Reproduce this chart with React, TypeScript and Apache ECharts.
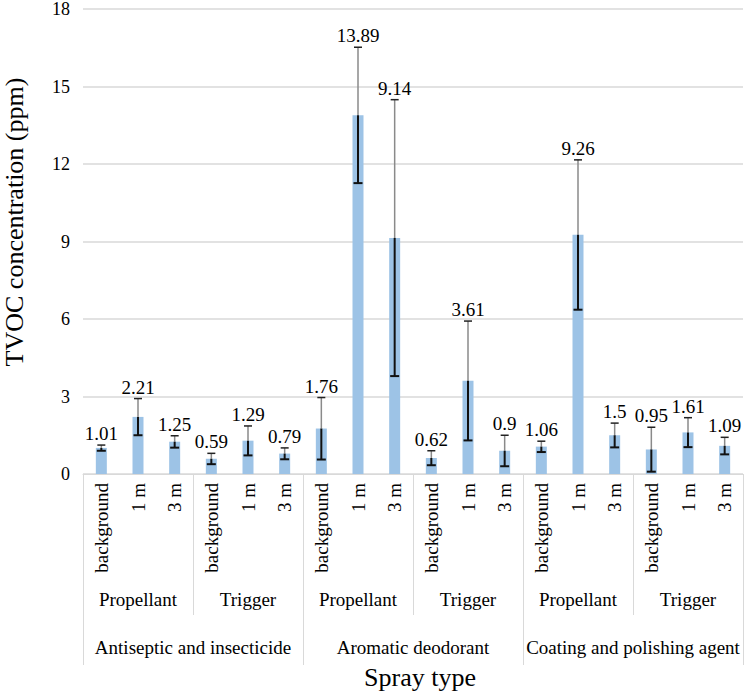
import React, { useEffect, useRef } from "react";
import * as echarts from "echarts";

const categories = [
  "background", "1 m", "3 m", "background", "1 m", "3 m",
  "background", "1 m", "3 m", "background", "1 m", "3 m",
  "background", "1 m", "3 m", "background", "1 m", "3 m",
];
const subGroups = ["Propellant", "Trigger", "Propellant", "Trigger", "Propellant", "Trigger"];
const groups = ["Antiseptic and insecticide", "Aromatic deodorant", "Coating and polishing agent"];
const values = [1.01, 2.21, 1.25, 0.59, 1.29, 0.79, 1.76, 13.89, 9.14, 0.62, 3.61, 0.9, 1.06, 9.26, 1.5, 0.95, 1.61, 1.09];
const errors = [0.11, 0.71, 0.23, 0.21, 0.57, 0.22, 1.2, 2.63, 5.35, 0.28, 2.31, 0.6, 0.21, 2.9, 0.47, 0.86, 0.57, 0.33];
const yMin = 0;
const yMax = 18;
const yInterval = 3;
const yTitle = "TVOC concentration (ppm)";
const xTitle = "Spray type";

const FONT = "Liberation Serif";
const GRID_COLOR = "#d9d9d9";

export default function App() {
  const ref = useRef<HTMLDivElement>(null);
  useEffect(() => {
    document.body.style.margin = "0";
    const chart = echarts.init(ref.current!, undefined, { renderer: "svg" });
    const errData = values.map((v, i) => [i, v, v - errors[i], v + errors[i]]);
    chart.setOption({
      animation: false,
      textStyle: { fontFamily: FONT },
      grid: { left: 83, right: 4, top: 7, bottom: 219, containLabel: false },
      xAxis: [
        {
          type: "category",
          data: categories,
          position: "bottom",
          axisLine: { show: true, lineStyle: { color: GRID_COLOR, width: 1 } },
          axisTick: { show: false },
          axisLabel: { interval: 0, rotate: 90, margin: 9, fontSize: 19, fontFamily: FONT, color: "#000" },
        },
        {
          type: "category",
          data: subGroups,
          position: "bottom",
          offset: 0,
          axisLine: { show: false },
          axisTick: { show: true, interval: 0, length: 141, lineStyle: { color: GRID_COLOR, width: 1 } },
          axisLabel: { interval: 0, margin: 116, fontSize: 19, fontFamily: FONT, color: "#000" },
        },
        {
          type: "category",
          data: groups,
          position: "bottom",
          offset: 0,
          axisLine: { show: false },
          axisTick: { show: true, interval: 0, length: 191, lineStyle: { color: GRID_COLOR, width: 1 } },
          axisLabel: { interval: 0, margin: 164, fontSize: 19, fontFamily: FONT, color: "#000" },
        },
      ],
      yAxis: {
        type: "value",
        min: yMin,
        max: yMax,
        interval: yInterval,
        axisLine: { show: false },
        axisTick: { show: false },
        splitLine: { lineStyle: { color: GRID_COLOR, width: 1.5 } },
        axisLabel: { margin: 13, fontSize: 18, fontFamily: FONT, color: "#000" },
      },
      graphic: [
        {
          type: "text",
          x: 14,
          y: 222,
          rotation: Math.PI / 2,
          style: { text: yTitle, fontSize: 26, fontFamily: FONT, fill: "#000", align: "center", verticalAlign: "middle" },
        },
        {
          type: "text",
          x: 420,
          y: 677,
          style: { text: xTitle, fontSize: 26, fontFamily: FONT, fill: "#000", align: "center", verticalAlign: "middle" },
        },
      ],
      series: [
        {
          type: "bar",
          data: values,
          barWidth: "30%",
          itemStyle: { color: "#9DC3E6" },
          xAxisIndex: 0,
        },
        {
          type: "custom",
          xAxisIndex: 0,
          data: errData,
          z: 10,
          renderItem: (params: any, api: any) => {
            const x = api.value(0);
            const v = api.coord([x, api.value(1)]);
            const lo = api.coord([x, api.value(2)]);
            const hi = api.coord([x, api.value(3)]);
            const idx = params.dataIndex;
            const cx = v[0];
            return {
              type: "group",
              children: [
                { type: "line", shape: { x1: cx, y1: v[1], x2: cx, y2: hi[1] }, style: { stroke: "#8a8a8a", lineWidth: 1.5 } },
                { type: "line", shape: { x1: cx, y1: v[1], x2: cx, y2: lo[1] }, style: { stroke: "#111", lineWidth: 2 } },
                { type: "line", shape: { x1: cx - 4, y1: hi[1], x2: cx + 4, y2: hi[1] }, style: { stroke: "#222", lineWidth: 1.5 } },
                { type: "line", shape: { x1: cx - 4.5, y1: lo[1], x2: cx + 4.5, y2: lo[1] }, style: { stroke: "#111", lineWidth: 2 } },
                {
                  type: "text",
                  x: cx,
                  y: hi[1] - 2,
                  style: { text: String(values[idx]), fontSize: 19, fontFamily: FONT, fill: "#000", align: "center", verticalAlign: "bottom" },
                },
              ],
            };
          },
        },
      ],
    });
    return () => chart.dispose();
  }, []);
  return <div ref={ref} style={{ width: 747, height: 693 }} />;
}
